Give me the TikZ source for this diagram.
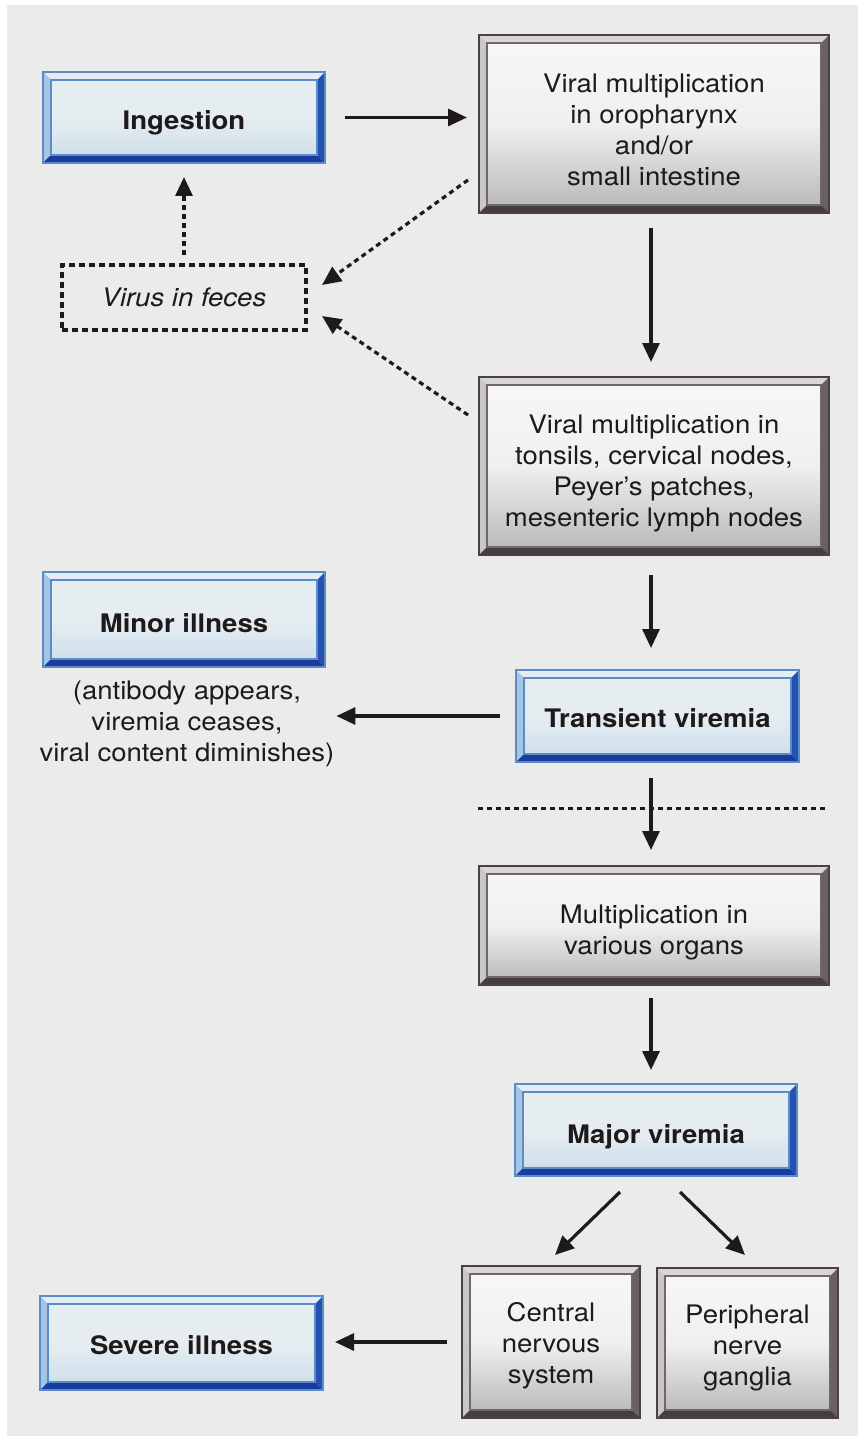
\documentclass[tikz,border=0pt]{standalone}
\usepackage{fontspec}
\setmainfont{TeX Gyre Heros}[FakeStretch=1.08]
\usetikzlibrary{arrows.meta,calc}
\definecolor{bg}{HTML}{EBEBEB}
\definecolor{ink}{HTML}{1E1A1B}
\definecolor{gTop}{HTML}{DAD6D6}
\definecolor{gLeft}{HTML}{CBC7C7}
\definecolor{gRight}{HTML}{6A6060}
\definecolor{gBot}{HTML}{463E3E}
\definecolor{gLine}{HTML}{4A4242}
\definecolor{bTop}{HTML}{E2EDF5}
\definecolor{bLeft}{HTML}{A4C6E4}
\definecolor{bRight}{HTML}{2450B0}
\definecolor{bBot}{HTML}{1A3C9E}
\definecolor{bLine}{HTML}{5A8CC8}
\definecolor{bIn}{HTML}{E6EDF1}
\definecolor{bInB}{HTML}{CADDE9}
\newcommand\tup[1]{\rule{0pt}{#1}}
\newcommand\bevelpic[6]{%
 \fill[#1] (path picture bounding box.north west) -- (path picture bounding box.north east) -- ([shift={(-#5,-#5)}]path picture bounding box.north east) -- ([shift={(#5,-#5)}]path picture bounding box.north west) -- cycle;
 \fill[#2] (path picture bounding box.north west) -- ([shift={(#5,-#5)}]path picture bounding box.north west) -- ([shift={(#5,#5)}]path picture bounding box.south west) -- (path picture bounding box.south west) -- cycle;
 \fill[#3] (path picture bounding box.north east) -- (path picture bounding box.south east) -- ([shift={(-#5,#5)}]path picture bounding box.south east) -- ([shift={(-#5,-#5)}]path picture bounding box.north east) -- cycle;
 \fill[#4] (path picture bounding box.south west) -- (path picture bounding box.south east) -- ([shift={(-#5,#5)}]path picture bounding box.south east) -- ([shift={(#5,#5)}]path picture bounding box.south west) -- cycle;
 \draw[#6, line width=1.3pt] ([shift={(#5,-#5)}]path picture bounding box.north west) rectangle ([shift={(-#5,#5)}]path picture bounding box.south east);
}
\tikzset{
  every node/.style={text=ink, inner sep=0pt, outer sep=0pt},
  txt/.style={font=\fontsize{25.5}{31}\selectfont, align=center},
  tdown/.style={execute at begin node={\rule{0pt}{#1}}},
  graybox/.style={txt, minimum width=#1, line width=1.8pt, draw=gLine,
     top color=white!94!gray, bottom color=gray!58, middle color=white!88!gray,
     path picture={\bevelpic{gTop}{gLeft}{gRight}{gBot}{8pt}{gLine!80}}},
  bluebox/.style={txt, font=\fontsize{25.5}{31}\selectfont\bfseries, minimum width=#1, line width=1.5pt, draw=bLine,
     top color=bIn, bottom color=bInB, middle color=bIn,
     path picture={\bevelpic{bTop}{bLeft}{bRight}{bBot}{8pt}{bLine}}},
  arr/.style={line width=3.2pt, draw=ink, -{Triangle[length=19pt,width=17pt]}},
  darr/.style={arr, dash pattern=on 5pt off 4pt},
}
\begin{document}
\begin{tikzpicture}[x=1pt,y=-1pt]
\useasboundingbox (0,0) rectangle (861,1439);
\fill[white] (0,0) rectangle (861,1439);
\fill[bg] (7,5) rectangle (858,1436);

\node[bluebox=282pt, minimum height=91pt, tdown=30pt] (ing) at (184,117.5) {Ingestion};
\node[graybox=350pt, minimum height=178pt] (v1) at (654,124) {\tup{30pt}Viral multiplication\\in oropharynx\\and/or\\small intestine};
\node[txt, font=\fontsize{25.5}{31}\selectfont\itshape, draw=ink, line width=3.4pt, dash pattern=on 6pt off 4pt, minimum width=244pt, minimum height=65pt] (fec) at (184,297.5) {Virus in feces};
\node[graybox=350pt, minimum height=178pt] (v2) at (654,466) {\tup{34pt}Viral multiplication in\\tonsils, cervical nodes,\\Peyer's patches,\\mesenteric lymph nodes};
\node[bluebox=282pt, minimum height=95pt, tdown=26pt] (minor) at (184,619.5) {Minor illness};
\node[txt] (mtext) at (187,721) {\tup{24pt}(antibody appears,\\viremia ceases,\\viral content diminishes)};
\node[bluebox=283pt, minimum height=92pt, tdown=24pt] (trans) at (657.5,716) {Transient viremia};
\node[graybox=350pt, minimum height=119pt] (mult) at (654,925.5) {\tup{32pt}Multiplication in\\various organs};
\node[bluebox=282pt, minimum height=92pt, tdown=32pt] (major) at (656,1130) {Major viremia};
\node[graybox=178pt, minimum height=152pt] (cns) at (551,1342) {\tup{26pt}Central\\nervous\\system};
\node[graybox=181pt, minimum height=150pt] (png) at (747.5,1343) {\tup{28pt}Peripheral\\nerve\\ganglia};
\node[bluebox=283pt, minimum height=94pt, tdown=24pt] (sev) at (181.5,1343) {Severe illness};

% separator
\coordinate (sepL) at (478,808);
\coordinate (sepR) at (828,808);
\draw[ink, line width=3pt, dash pattern=on 5pt off 4pt] (sepL) -- (sepR);

% connectors
\draw[arr, shorten <=20pt, shorten >=12pt] (ing.east) -- (ing.east -| v1.west);
\draw[arr, shorten <=15pt, shorten >=15pt] (v1.south -| 651,0) -- (v2.north -| 651,0);
\coordinate (d1s) at ([shift={(-11pt,33pt)}]v1.south west);
\coordinate (d1e) at ([shift={(16pt,-20pt)}]fec.north east);
\draw[darr] (d1s) -- (d1e);
\coordinate (d2s) at ([shift={(-11pt,-38pt)}]v2.north west);
\coordinate (d2e) at ([shift={(16pt,14pt)}]fec.south east);
\draw[darr] (d2s) -- (d2e);
\draw[darr, shorten <=10pt, shorten >=14pt] (fec.north) -- (ing.south);
\draw[arr, shorten <=20pt, shorten >=22pt] (v2.south -| 651,0) -- (trans.north -| 651,0);
\draw[arr, shorten <=16pt, shorten >=2pt] (trans.west) -- (trans.west -| mtext.east);
\draw[arr, shorten <=16pt, shorten >=16pt] (trans.south -| 651,0) -- (mult.north -| 651,0);
\draw[arr, shorten <=13pt, shorten >=14pt] (mult.south -| 651,0) -- (major.north -| 651,0);
\coordinate (m1s) at ([shift={(-36pt,-16pt)}]major.south);
\coordinate (m1e) at ([shift={(4pt,11pt)}]cns.north);
\draw[arr] (m1s) -- (m1e);
\coordinate (m2s) at ([shift={(24pt,-16pt)}]major.south);
\coordinate (m2e) at ([shift={(-2.5pt,13pt)}]png.north);
\draw[arr] (m2s) -- (m2e);
\draw[arr, shorten <=15pt, shorten >=12pt] (cns.west) -- (cns.west -| sev.east);
\end{tikzpicture}
\end{document}
